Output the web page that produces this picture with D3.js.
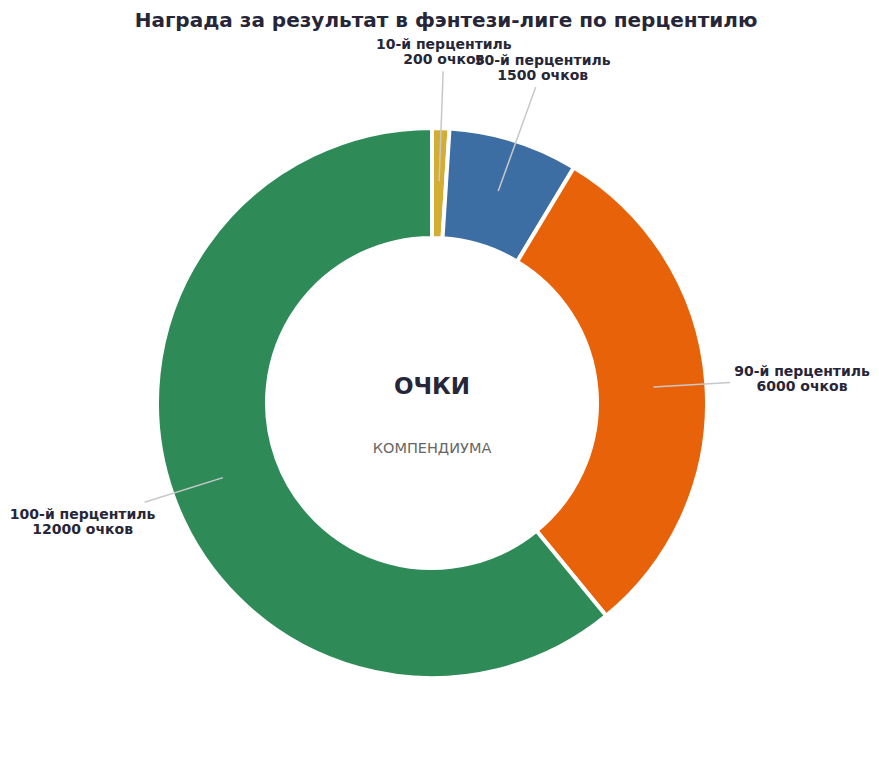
<!DOCTYPE html>
<html>
<head>
<meta charset="utf-8">
<script src="https://cdn.jsdelivr.net/npm/d3@7"></script>
<style>
body { margin: 0; background: #fff; }
text { font-family: "DejaVu Sans", sans-serif; }
</style>
</head>
<body>
<svg id="chart" width="879" height="758"></svg>
<script>
//
// Data
//
var categories = ["10-й перцентиль", "50-й перцентиль", "90-й перцентиль", "100-й перцентиль"];
var points = [200, 1500, 6000, 12000];
var colors = ["#d4ae32", "#3c6ea4", "#e8620a", "#2e8b57"];
var unit = "очков";

var width = 879, height = 758;
var cx = 432, cy = 403;
var outerR = 275, innerR = 165;

var svg = d3.select("#chart");

svg.append("text")
	.attr("x", 446).attr("y", 27)
	.attr("text-anchor", "middle")
	.attr("font-size", 20).attr("font-weight", "bold")
	.attr("fill", "#262638")
	.text("Награда за результат в фэнтези-лиге по перцентилю");

var data = categories.map(function(c, i) { return {name: c, value: points[i], color: colors[i]}; });

var pie = d3.pie().value(function(d) { return d.value; }).sort(null);
var arc = d3.arc().innerRadius(innerR).outerRadius(outerR);
var arcs = pie(data);

var g = svg.append("g").attr("transform", "translate(" + cx + "," + cy + ")");

g.selectAll("path.slice")
	.data(arcs)
	.enter().append("path")
	.attr("class", "slice")
	.attr("d", arc)
	.attr("fill", function(d) { return d.data.color; })
	.attr("stroke", "#fff")
	.attr("stroke-width", 4);

// centre texts
g.append("text")
	.attr("x", 0).attr("y", -9)
	.attr("text-anchor", "middle")
	.attr("font-size", 23).attr("font-weight", "bold")
	.attr("fill", "#262638")
	.text("ОЧКИ");
g.append("text")
	.attr("x", 0).attr("y", 50)
	.attr("text-anchor", "middle")
	.attr("font-size", 14.5)
	.attr("fill", "#666")
	.text("КОМПЕНДИУМА");

//
// Labels with leader lines
//
function polar(a, rx, ry) { return [rx * Math.sin(a), -ry * Math.cos(a)]; }

var labelRx = 371, labelRy = 352, lineR = 222;
var lines = g.append("g");
var labels = g.append("g");

arcs.forEach(function(d) {
	var a = (d.startAngle + d.endAngle) / 2;
	var p0 = polar(a, lineR, lineR);
	var pt = polar(a, labelRx, labelRy);
	var t = labels.append("text")
		.attr("text-anchor", "middle")
		.attr("font-size", 14).attr("font-weight", "bold")
		.attr("fill", "#262638");
	t.append("tspan").attr("x", pt[0]).attr("y", pt[1] - 2).text(d.data.name);
	t.append("tspan").attr("x", pt[0]).attr("y", pt[1] + 13).text(d.data.value + " " + unit);
	var bb = t.node().getBBox();
	// clip line to text box
	var tcx = bb.x + bb.width / 2, tcy = bb.y + bb.height / 2;
	var dx = p0[0] - tcx, dy = p0[1] - tcy;
	var s = Math.min(Math.abs((bb.width / 2 + 4) / dx) || 1e9, Math.abs((bb.height / 2 + 4) / dy) || 1e9);
	var p1 = [tcx + dx * s, tcy + dy * s];
	lines.append("path")
		.attr("fill", "none")
		.attr("stroke", "#c8c8c8")
		.attr("stroke-width", 1.5)
		.attr("d", "M" + p0 + " L" + p1);
});
</script>
</body>
</html>
